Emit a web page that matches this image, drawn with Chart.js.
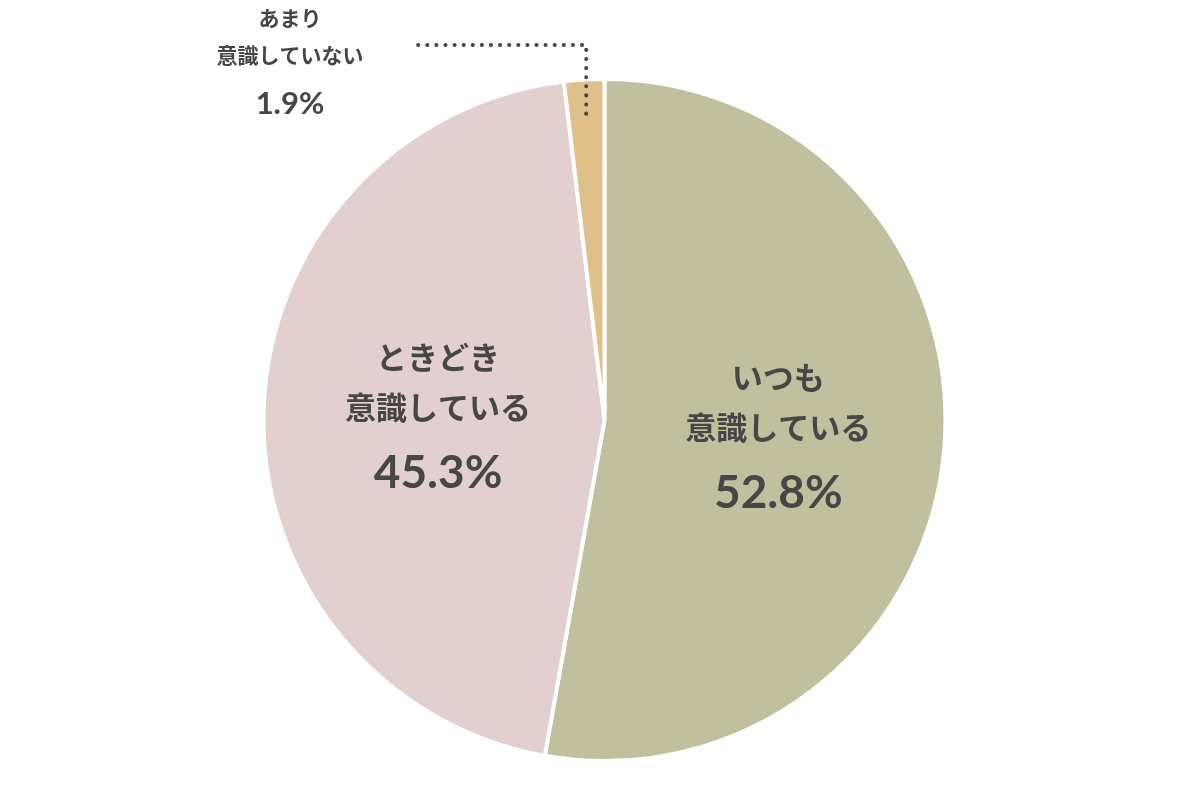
<!DOCTYPE html>
<html>
<head>
<meta charset="utf-8">
<script src="https://cdn.jsdelivr.net/npm/chart.js@4"></script>
<style>
  html, body { margin: 0; padding: 0; background: #fff; }
  #wrap { width: 1200px; height: 788px; }
</style>
</head>
<body>
<div id="wrap"><canvas id="pie"></canvas></div>
<script>
const categories = ["いつも\n意識している", "ときどき\n意識している", "あまり\n意識していない"];
const values = [52.8, 45.3, 1.9];
const colors = ["#c0c09f", "#e2d0d1", "#dfc088"];

const JP = '"Noto Sans CJK JP", "Noto Sans", sans-serif';
const NUM = 'Lato, "Noto Sans", sans-serif';
const TEXT = "#464646";

const labelPlugin = {
  id: "sliceLabels",
  afterDatasetsDraw(chart) {
    const ctx = chart.ctx;
    const arcs = chart.getDatasetMeta(0).data;
    ctx.save();
    ctx.fillStyle = TEXT;
    ctx.textAlign = "center";
    ctx.textBaseline = "middle";

    // big slices: label inside
    [0, 1].forEach((i) => {
      const p = arcs[i].tooltipPosition();
      const lines = categories[i].split("\n");
      ctx.font = "bold 31px " + JP;
      ctx.fillText(lines[0], p.x + 4, p.y - 58);
      ctx.fillText(lines[1], p.x + 4, p.y - 8);
      ctx.font = "bold 46px " + NUM;
      ctx.fillText(values[i].toFixed(1) + "%", p.x + 4, p.y + 58);
    });

    // small slice: outside label with dotted leader
    const a = arcs[2];
    const mid = (a.startAngle + a.endAngle) / 2;
    const r = a.outerRadius * 0.9;
    const sx = a.x + Math.cos(mid) * r;
    const sy = a.y + Math.sin(mid) * r;
    ctx.strokeStyle = TEXT;
    ctx.lineWidth = 4;
    ctx.lineCap = "round";
    ctx.setLineDash([0.1, 9]);
    ctx.beginPath();
    ctx.moveTo(sx, sy);
    ctx.lineTo(sx, 45);
    ctx.lineTo(412, 45);
    ctx.stroke();
    ctx.setLineDash([]);

    const lines = categories[2].split("\n");
    ctx.font = "bold 21px " + JP;
    ctx.fillText(lines[0], 290, 18);
    ctx.fillText(lines[1], 290, 55);
    ctx.font = "bold 31px " + NUM;
    ctx.fillText(values[2].toFixed(1) + "%", 290, 104);
    ctx.restore();
  },
};

new Chart(document.getElementById("pie"), {
  type: "pie",
  data: {
    labels: categories,
    datasets: [
      {
        data: values,
        backgroundColor: colors,
        borderColor: "#ffffff",
        borderWidth: 4,
      },
    ],
  },
  options: {
    responsive: true,
    maintainAspectRatio: false,
    animation: false,
    layout: { padding: { top: 77, bottom: 25, left: 9, right: 0 } },
    plugins: { legend: { display: false }, tooltip: { enabled: false } },
  },
  plugins: [labelPlugin],
});
</script>
</body>
</html>
